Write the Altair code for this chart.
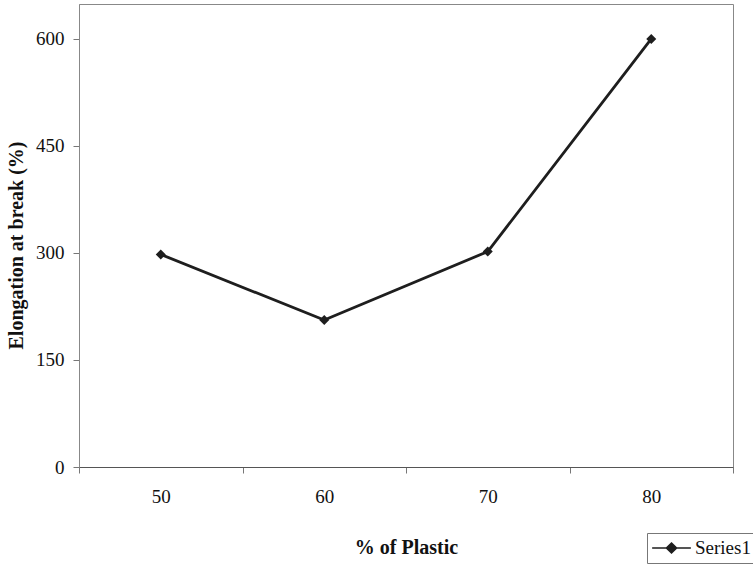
import altair as alt
import pandas as pd

# Elongation at break for each plastic content
plastic_pct = ["50", "60", "70", "80"]
elongation = [298, 206, 302, 600]
series_name = ["Series1"] * 4

df = pd.DataFrame({"plastic": plastic_pct, "elongation": elongation, "series": series_name})

FONT = "Liberation Serif"
INK = "#1e1e1e"

# Legend glyph: a short line with a filled diamond in the middle
legend_glyph = "M-1,0L1,0M0,-0.25L0.26,0L0,0.25L-0.26,0Z"

x_enc = alt.X(
    "plastic:N",
    sort=plastic_pct,
    scale=alt.Scale(paddingInner=0, paddingOuter=0),
    axis=alt.Axis(
        title="% of Plastic",
        labelAngle=0,
        tickBand="extent",
        tickSize=6,
        labelPadding=14,
        titlePadding=31,
        domainColor="#555",
        tickColor="#777",
    ),
)
y_enc = alt.Y(
    "elongation:Q",
    scale=alt.Scale(domain=[0, 649], nice=False),
    axis=alt.Axis(
        title="Elongation at break (%)",
        values=[0, 150, 300, 450, 600],
        tickSize=6,
        labelPadding=9,
        titlePadding=9,
        titleY=241,
        domainColor="#888",
        tickColor="#777",
        grid=False,
    ),
)
color_enc = alt.Color(
    "series:N",
    scale=alt.Scale(range=[INK]),
    legend=alt.Legend(
        title=None,
        orient="none",
        legendX=568,
        legendY=529,
        symbolType=legend_glyph,
        symbolSize=1500,
        symbolStrokeWidth=1.6,
        symbolFillColor=INK,
        symbolStrokeColor=INK,
        strokeColor="#777",
        padding=4,
        clipHeight=22,
        labelFontSize=19,
        labelFont=FONT,
        labelColor="#111",
        labelOffset=3,
    ),
)

line = alt.Chart(df).mark_line(strokeWidth=2.8).encode(x=x_enc, y=y_enc, color=color_enc)
points = alt.Chart(df).mark_point(shape="diamond", filled=True, size=100, opacity=1, color=INK).encode(
    x=x_enc, y=y_enc
)

chart = (
    alt.layer(line, points)
    .properties(
        width=654,
        height=463,
        autosize=alt.AutoSizeParams(type="none"),
        padding={"left": 79, "top": 4, "right": 20, "bottom": 101},
        background="white",
    )
    .configure(font=FONT)
    .configure_view(stroke="#888", strokeWidth=1)
    .configure_axis(
        labelFont=FONT,
        titleFont=FONT,
        labelFontSize=19,
        titleFontSize=20,
        titleFontWeight="bold",
        labelColor="#111",
        titleColor="#111",
    )
    .configure_legend(labelFont=FONT, labelFontSize=19, labelColor="#111")
)

chart.save("out.html", embed_options={"renderer": "svg", "actions": False})
